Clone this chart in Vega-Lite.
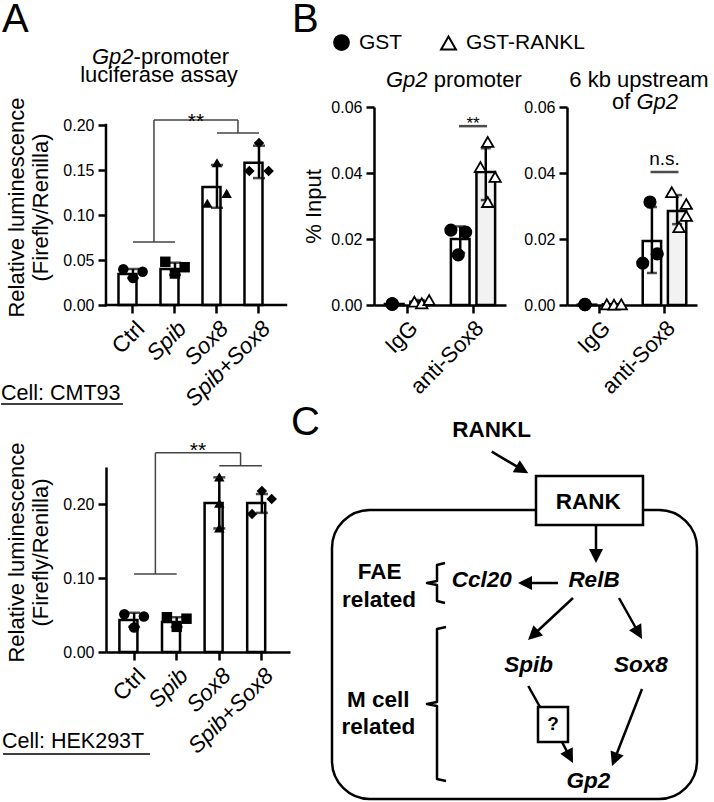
{
  "$schema": "https://vega.github.io/schema/vega-lite/v6.json",
  "padding": 0,
  "background": "white",
  "config": {
    "font": "Liberation Sans",
    "view": {"stroke": null},
    "axis": {
      "domainColor": "black", "domainWidth": 2.5, "tickColor": "black", "tickWidth": 2.5, "tickSize": 8,
      "labelColor": "black", "labelFont": "Liberation Sans", "labelFontSize": 16, "labelPadding": 4,
      "titleFont": "Liberation Sans", "titleFontSize": 22, "titleFontWeight": "normal", "titleColor": "black",
      "grid": false, "labelFlush": false, "labelOverlap": false
    }
  },
  "datasets": {
    "a1_bar": [
      {"cond": "Ctrl", "mean": 0.0345, "lo": 0.030, "hi": 0.040},
      {"cond": "Spib", "mean": 0.040, "lo": 0.0335, "hi": 0.047},
      {"cond": "Sox8", "mean": 0.131, "lo": 0.108, "hi": 0.1556},
      {"cond": "Spib+Sox8", "mean": 0.158, "lo": 0.141, "hi": 0.177}
    ],
    "a1_pts": [
      {"cond": "Ctrl", "slot": "L", "value": 0.0397},
      {"cond": "Ctrl", "slot": "C", "value": 0.030},
      {"cond": "Ctrl", "slot": "R", "value": 0.037},
      {"cond": "Spib", "slot": "L", "value": 0.048},
      {"cond": "Spib", "slot": "C", "value": 0.035},
      {"cond": "Spib", "slot": "R", "value": 0.042},
      {"cond": "Sox8", "slot": "L", "value": 0.113},
      {"cond": "Sox8", "slot": "C", "value": 0.158},
      {"cond": "Sox8", "slot": "R", "value": 0.124},
      {"cond": "Spib+Sox8", "slot": "L", "value": 0.149},
      {"cond": "Spib+Sox8", "slot": "C", "value": 0.180},
      {"cond": "Spib+Sox8", "slot": "R", "value": 0.149}
    ],
    "a2_bar": [
      {"cond": "Ctrl", "mean": 0.0432, "lo": 0.034, "hi": 0.053},
      {"cond": "Spib", "mean": 0.0405, "lo": 0.034, "hi": 0.047},
      {"cond": "Sox8", "mean": 0.2014, "lo": 0.167, "hi": 0.236},
      {"cond": "Spib+Sox8", "mean": 0.2014, "lo": 0.188, "hi": 0.2135}
    ],
    "a2_pts": [
      {"cond": "Ctrl", "slot": "L", "value": 0.051},
      {"cond": "Ctrl", "slot": "C", "value": 0.033},
      {"cond": "Ctrl", "slot": "R", "value": 0.048},
      {"cond": "Spib", "slot": "L", "value": 0.047},
      {"cond": "Spib", "slot": "C", "value": 0.034},
      {"cond": "Spib", "slot": "R", "value": 0.045},
      {"cond": "Sox8", "slot": "C", "value": 0.2365},
      {"cond": "Sox8", "slot": "C", "value": 0.201},
      {"cond": "Sox8", "slot": "C", "value": 0.1676},
      {"cond": "Spib+Sox8", "slot": "L", "value": 0.1865},
      {"cond": "Spib+Sox8", "slot": "C", "value": 0.2176},
      {"cond": "Spib+Sox8", "slot": "R", "value": 0.2068}
    ],
    "b1_bar": [
      {"cond": "IgG", "group": "GST", "mean": 0.0003, "lo": 0.0002, "hi": 0.0004},
      {"cond": "IgG", "group": "GST-RANKL", "mean": 0.001, "lo": 0.0005, "hi": 0.0015},
      {"cond": "anti-Sox8", "group": "GST", "mean": 0.020, "lo": 0.0158, "hi": 0.0238},
      {"cond": "anti-Sox8", "group": "GST-RANKL", "mean": 0.0403, "lo": 0.0318, "hi": 0.0475}
    ],
    "b1_pts": [
      {"cond": "IgG", "group": "GST", "well": "G2", "value": 0.0002},
      {"cond": "IgG", "group": "GST", "well": "G2", "value": 0.0003},
      {"cond": "IgG", "group": "GST", "well": "G2", "value": 0.0004},
      {"cond": "IgG", "group": "GST-RANKL", "well": "R1", "value": 0.001},
      {"cond": "IgG", "group": "GST-RANKL", "well": "R2", "value": 0.0005},
      {"cond": "IgG", "group": "GST-RANKL", "well": "R3", "value": 0.0015},
      {"cond": "anti-Sox8", "group": "GST", "well": "G1", "value": 0.0227},
      {"cond": "anti-Sox8", "group": "GST", "well": "G2", "value": 0.0152},
      {"cond": "anti-Sox8", "group": "GST", "well": "G3", "value": 0.0221},
      {"cond": "anti-Sox8", "group": "GST-RANKL", "well": "R1", "value": 0.0418},
      {"cond": "anti-Sox8", "group": "GST-RANKL", "well": "R2", "value": 0.0494},
      {"cond": "anti-Sox8", "group": "GST-RANKL", "well": "R3", "value": 0.0388},
      {"cond": "anti-Sox8", "group": "GST-RANKL", "well": "R2", "value": 0.0312}
    ],
    "b2_bar": [
      {"cond": "IgG", "group": "GST", "mean": 0.0001, "lo": 0.0001, "hi": 0.0001},
      {"cond": "IgG", "group": "GST-RANKL", "mean": 0.0002, "lo": 0.0001, "hi": 0.0002},
      {"cond": "anti-Sox8", "group": "GST", "mean": 0.0194, "lo": 0.0097, "hi": 0.0297},
      {"cond": "anti-Sox8", "group": "GST-RANKL", "mean": 0.0285, "lo": 0.0245, "hi": 0.0333}
    ],
    "b2_pts": [
      {"cond": "IgG", "group": "GST", "well": "G2", "value": 0.0001},
      {"cond": "IgG", "group": "GST", "well": "G2", "value": 0.0001},
      {"cond": "IgG", "group": "GST", "well": "G2", "value": 0.0002},
      {"cond": "IgG", "group": "GST-RANKL", "well": "R1", "value": 0.0002},
      {"cond": "IgG", "group": "GST-RANKL", "well": "R2", "value": 0.0001},
      {"cond": "IgG", "group": "GST-RANKL", "well": "R3", "value": 0.0002},
      {"cond": "anti-Sox8", "group": "GST", "well": "G2", "value": 0.0312},
      {"cond": "anti-Sox8", "group": "GST", "well": "G1", "value": 0.0127},
      {"cond": "anti-Sox8", "group": "GST", "well": "G3", "value": 0.0155},
      {"cond": "anti-Sox8", "group": "GST-RANKL", "well": "R1", "value": 0.0342},
      {"cond": "anti-Sox8", "group": "GST-RANKL", "well": "R2", "value": 0.0236},
      {"cond": "anti-Sox8", "group": "GST-RANKL", "well": "R3", "value": 0.0306},
      {"cond": "anti-Sox8", "group": "GST-RANKL", "well": "R3", "value": 0.027}
    ],
    "c_letters": [
      {"label": "A", "X": -298, "Y": -368},
      {"label": "B", "X": -8, "Y": -368},
      {"label": "C", "X": -9, "Y": 34.5}
    ],
    "c_title_c": [
      {"label": "luciferase assay", "X": -141, "Y": -318.5},
      {"label": "6 kb upstream", "X": 339, "Y": -313}
    ],
    "c_title_l": [
      {"label": "-promoter", "X": -166.4, "Y": -336.5},
      {"label": "promoter", "X": 133.7, "Y": -313}
    ],
    "c_title_r": [
      {"label": "of", "X": 330.3, "Y": -291}
    ],
    "c_title_il": [
      {"label": "Gp2", "X": 336.4, "Y": -291}
    ],
    "c_title_ir": [
      {"label": "Gp2", "X": -166.4, "Y": -336.5},
      {"label": "Gp2", "X": 127.6, "Y": -313}
    ],
    "c_cell": [
      {"label": "Cell: CMT93", "X": -299, "Y": 0},
      {"label": "Cell: HEK293T", "X": -298, "Y": 348}
    ],
    "c_uline": [
      {"X": -299, "X2": -177, "Y": 4},
      {"X": -297, "X2": -150, "Y": 354}
    ],
    "c_outer": [
      {"X": 32, "Y": 110, "X2": 397, "Y2": 399}
    ],
    "c_boxes": [
      {"X": 236, "Y": 76, "X2": 343, "Y2": 125},
      {"X": 238, "Y": 307, "X2": 268, "Y2": 342}
    ],
    "c_lines": [
      {"X": 191.7, "Y": 51.7, "X2": 221.4, "Y2": 69.2},
      {"X": 296, "Y": 125, "X2": 296, "Y2": 155},
      {"X": 258, "Y": 183, "X2": 226, "Y2": 183},
      {"X": 273, "Y": 198, "X2": 233.8, "Y2": 234.5},
      {"X": 319, "Y": 198, "X2": 338.1, "Y2": 232},
      {"X": 228.3, "Y": 286, "X2": 240, "Y2": 307},
      {"X": 262, "Y": 342, "X2": 269.3, "Y2": 355.9},
      {"X": 342, "Y": 289, "X2": 314.9, "Y2": 358.5}
    ],
    "c_heads": [
      {"X": 228.3, "Y": 73.3, "angle": 120.5},
      {"X": 296, "Y": 163, "angle": 180},
      {"X": 218, "Y": 183, "angle": 270},
      {"X": 228, "Y": 240, "angle": 227},
      {"X": 342, "Y": 239, "angle": 150.7},
      {"X": 273, "Y": 363, "angle": 152.4},
      {"X": 312, "Y": 366, "angle": 201.3}
    ],
    "c_braces": [
      {"id": "f", "i": 0, "X": 145, "Y": 163},
      {"id": "f", "i": 1, "X": 137, "Y": 165},
      {"id": "f", "i": 2, "X": 137, "Y": 181},
      {"id": "f", "i": 3, "X": 127, "Y": 183},
      {"id": "f", "i": 4, "X": 137, "Y": 185},
      {"id": "f", "i": 5, "X": 137, "Y": 201},
      {"id": "f", "i": 6, "X": 145, "Y": 203},
      {"id": "m", "i": 0, "X": 146, "Y": 227},
      {"id": "m", "i": 1, "X": 137, "Y": 229},
      {"id": "m", "i": 2, "X": 137, "Y": 302},
      {"id": "m", "i": 3, "X": 127, "Y": 304},
      {"id": "m", "i": 4, "X": 137, "Y": 306},
      {"id": "m", "i": 5, "X": 137, "Y": 379},
      {"id": "m", "i": 6, "X": 146, "Y": 381}
    ],
    "c_bold": [
      {"label": "RANKL", "X": 191.7, "Y": 37},
      {"label": "RANK", "X": 288.3, "Y": 109},
      {"label": "FAE", "X": 79.5, "Y": 179},
      {"label": "related", "X": 79, "Y": 207.3},
      {"label": "M cell", "X": 78.3, "Y": 306.7},
      {"label": "related", "X": 78.3, "Y": 334}
    ],
    "c_q": [
      {"label": "?", "X": 253, "Y": 330}
    ],
    "c_bolditalic": [
      {"label": "Ccl20", "X": 181.7, "Y": 186.7},
      {"label": "RelB", "X": 294, "Y": 186.7},
      {"label": "Spib", "X": 228.7, "Y": 271.7},
      {"label": "Sox8", "X": 340.8, "Y": 271.7},
      {"label": "Gp2", "X": 288.3, "Y": 388.3}
    ]
  },
  "columns": 3,
  "align": "none",
  "bounds": "flush",
  "spacing": {"row": 162, "column": 61},
  "resolve": {
    "scale": {"shape": "independent", "color": "independent", "fill": "independent", "stroke": "independent", "xOffset": "independent", "angle": "independent"},
    "legend": {"shape": "independent", "color": "independent", "fill": "independent", "stroke": "independent"}
  },
  "concat": [
    {
      "width": 207, "height": 198,
      "layer": [
        {
          "data": {"name": "a1_bar"},
          "mark": {"type": "bar", "fill": "white", "stroke": "black", "strokeWidth": 2.5},
          "encoding": {
            "x": {"field": "cond", "type": "nominal", "sort": null,
              "scale": {"domain": ["Ctrl", "Spib", "Sox8", "Spib+Sox8"], "paddingInner": 0.31, "paddingOuter": 0.619, "align": 0.24},
              "axis": {"title": null, "domain": false, "labelAngle": -45, "labelFontSize": 22.5,
                "labelFontStyle": {"condition": {"test": "datum.value !== 'Ctrl'", "value": "italic"}, "value": "normal"}}},
            "y": {"field": "mean", "type": "quantitative", "scale": {"domain": [0, 0.22], "nice": false},
              "axis": {"title": ["Relative luminescence", "(Firefly/Renilla)"], "domain": false, "values": [0, 0.05, 0.1, 0.15, 0.2], "format": ".2f", "titlePadding": 10, "titleLineHeight": 24, "titleY": 100}}
          }
        },
        {
          "data": {"values": [{"at": "Ctrl", "y": 0, "y2": 0.2}]},
          "mark": {"type": "rule", "color": "black", "strokeWidth": 2.5, "strokeCap": "square"},
          "encoding": {"x": {"field": "at", "type": "nominal", "bandPosition": -0.431}, "y": {"field": "y", "type": "quantitative"}, "y2": {"field": "y2"}}
        },
        {
          "data": {"values": [{"from": "Ctrl", "to": "Spib+Sox8", "y": 0}]},
          "mark": {"type": "rule", "color": "black", "strokeWidth": 2.5, "strokeCap": "square"},
          "encoding": {"x": {"field": "from", "type": "nominal", "bandPosition": -0.431}, "x2": {"field": "to", "bandPosition": 1.431}, "y": {"field": "y", "type": "quantitative"}}
        },
        {
          "data": {"name": "a1_bar"},
          "mark": {"type": "rule", "color": "black", "strokeWidth": 2.5},
          "encoding": {"x": {"field": "cond", "type": "nominal"}, "y": {"field": "lo", "type": "quantitative"}, "y2": {"field": "hi"}}
        },
        {
          "data": {"name": "a1_bar"},
          "mark": {"type": "tick", "color": "black", "thickness": 2.5, "size": 12},
          "encoding": {"x": {"field": "cond", "type": "nominal"}, "y": {"field": "lo", "type": "quantitative"}}
        },
        {
          "data": {"name": "a1_bar"},
          "mark": {"type": "tick", "color": "black", "thickness": 2.5, "size": 12},
          "encoding": {"x": {"field": "cond", "type": "nominal"}, "y": {"field": "hi", "type": "quantitative"}}
        },
        {
          "data": {"name": "a1_pts"},
          "mark": {"type": "point", "filled": true, "color": "black", "size": 110, "opacity": 1},
          "encoding": {
            "x": {"field": "cond", "type": "nominal"},
            "xOffset": {"field": "slot", "type": "nominal", "scale": {"domain": ["L", "C", "R"], "paddingInner": 0, "paddingOuter": 0.5}},
            "y": {"field": "value", "type": "quantitative"},
            "shape": {"field": "cond", "type": "nominal", "scale": {"domain": ["Ctrl", "Spib", "Sox8", "Spib+Sox8"], "range": ["circle", "square", "triangle-up", "diamond"]}, "legend": null}
          }
        },
        {
          "data": {"values": [{"from": "Ctrl", "to": "Spib", "y": 0.07}, {"from": "Sox8", "to": "Spib+Sox8", "y": 0.191}]},
          "mark": {"type": "rule", "color": "#444", "strokeWidth": 1.5},
          "encoding": {"x": {"field": "from", "type": "nominal", "bandPosition": 0.5}, "x2": {"field": "to", "bandPosition": 0.5}, "y": {"field": "y", "type": "quantitative"}}
        },
        {
          "data": {"values": [{"from": "Ctrl", "to": "Sox8", "y": 0.2056}]},
          "mark": {"type": "rule", "color": "#444", "strokeWidth": 1.5},
          "encoding": {"x": {"field": "from", "type": "nominal", "bandPosition": 1.224}, "x2": {"field": "to", "bandPosition": 1.224}, "y": {"field": "y", "type": "quantitative"}}
        },
        {
          "data": {"values": [{"at": "Ctrl", "y": 0.07, "y2": 0.2056}, {"at": "Sox8", "y": 0.191, "y2": 0.2056}]},
          "mark": {"type": "rule", "color": "#444", "strokeWidth": 1.5},
          "encoding": {"x": {"field": "at", "type": "nominal", "bandPosition": 1.224}, "y": {"field": "y", "type": "quantitative"}, "y2": {"field": "y2"}}
        },
        {
          "data": {"values": [{"at": "Spib", "y": 0.197, "label": "**"}]},
          "mark": {"type": "text", "fontSize": 21, "baseline": "alphabetic", "color": "black"},
          "encoding": {"x": {"field": "at", "type": "nominal", "bandPosition": 1.224}, "y": {"field": "y", "type": "quantitative"}, "text": {"field": "label"}}
        }
      ]
    },
    {
      "width": 132, "height": 198,
      "resolve": {"scale": {"xOffset": "independent"}},
      "layer": [
        {
          "data": {"name": "b1_bar"},
          "transform": [{"filter": "datum.group === 'GST'"}],
          "mark": {"type": "bar", "fill": "white", "stroke": "black", "strokeWidth": 2.5},
          "encoding": {
            "x": {"field": "cond", "type": "nominal", "sort": null,
              "scale": {"domain": ["IgG", "anti-Sox8"], "paddingInner": 0.33, "paddingOuter": 0.165},
              "axis": {"title": null, "labelAngle": -45, "labelFontSize": 22}},
            "xOffset": {"field": "group", "type": "nominal", "scale": {"domain": ["GST", "GST-RANKL"], "paddingInner": 0.27}},
            "y": {"field": "mean", "type": "quantitative", "scale": {"domain": [0, 0.06], "nice": false},
              "axis": {"title": "% Input", "values": [0, 0.02, 0.04, 0.06], "format": ".2f", "titlePadding": 5}}
          }
        },
        {
          "data": {"name": "b1_bar"},
          "transform": [{"filter": "datum.group === 'GST-RANKL'"}],
          "mark": {"type": "bar", "fill": "#f2f2f2", "stroke": "black", "strokeWidth": 2.5},
          "encoding": {
            "x": {"field": "cond", "type": "nominal"},
            "xOffset": {"field": "group", "type": "nominal", "scale": {"domain": ["GST", "GST-RANKL"], "paddingInner": 0.27}},
            "y": {"field": "mean", "type": "quantitative"}
          }
        },
        {
          "data": {"name": "b1_bar"},
          "mark": {"type": "rule", "color": "black", "strokeWidth": 2.5},
          "encoding": {
            "x": {"field": "cond", "type": "nominal"},
            "xOffset": {"field": "group", "type": "nominal", "scale": {"domain": ["GST", "GST-RANKL"], "paddingInner": 0.27}},
            "y": {"field": "lo", "type": "quantitative"}, "y2": {"field": "hi"}
          }
        },
        {
          "data": {"name": "b1_bar"},
          "mark": {"type": "tick", "color": "black", "thickness": 2.5, "size": 10},
          "encoding": {
            "x": {"field": "cond", "type": "nominal"},
            "xOffset": {"field": "group", "type": "nominal", "scale": {"domain": ["GST", "GST-RANKL"], "paddingInner": 0.27}},
            "y": {"field": "lo", "type": "quantitative"}
          }
        },
        {
          "data": {"name": "b1_bar"},
          "mark": {"type": "tick", "color": "black", "thickness": 2.5, "size": 10},
          "encoding": {
            "x": {"field": "cond", "type": "nominal"},
            "xOffset": {"field": "group", "type": "nominal", "scale": {"domain": ["GST", "GST-RANKL"], "paddingInner": 0.27}},
            "y": {"field": "hi", "type": "quantitative"}
          }
        },
        {
          "data": {"name": "b1_pts"},
          "mark": {"type": "point", "size": 130, "strokeWidth": 1.8, "opacity": 1, "fillOpacity": 1, "strokeOpacity": 1},
          "encoding": {
            "x": {"field": "cond", "type": "nominal"},
            "xOffset": {"field": "well", "type": "nominal", "scale": {"domain": ["G1", "G2", "G3", "gap", "R1", "R2", "R3"], "paddingInner": 0, "paddingOuter": 0}},
            "y": {"field": "value", "type": "quantitative"},
            "fill": {"field": "group", "type": "nominal", "scale": {"domain": ["GST", "GST-RANKL"], "range": ["black", "white"]},
              "legend": {"orient": "none", "legendX": -43, "legendY": -75, "direction": "horizontal", "title": null, "labelFontSize": 21, "labelFont": "Liberation Sans", "labelColor": "black", "symbolSize": 220, "symbolStrokeWidth": 2, "symbolOpacity": 1, "labelOffset": 7, "columnPadding": 34, "padding": 0}},
            "stroke": {"field": "group", "type": "nominal", "scale": {"domain": ["GST", "GST-RANKL"], "range": ["black", "black"]},
              "legend": {"orient": "none", "legendX": -43, "legendY": -75, "direction": "horizontal", "title": null, "labelFontSize": 21, "labelFont": "Liberation Sans", "labelColor": "black", "symbolSize": 220, "symbolStrokeWidth": 2, "symbolOpacity": 1, "labelOffset": 7, "columnPadding": 34, "padding": 0}},
            "shape": {"field": "group", "type": "nominal", "scale": {"domain": ["GST", "GST-RANKL"], "range": ["circle", "triangle-up"]},
              "legend": {"orient": "none", "legendX": -43, "legendY": -75, "direction": "horizontal", "title": null, "labelFontSize": 21, "labelFont": "Liberation Sans", "labelColor": "black", "symbolSize": 220, "symbolStrokeWidth": 2, "symbolOpacity": 1, "labelOffset": 7, "columnPadding": 34, "padding": 0}}
          }
        },
        {
          "data": {"values": [{"cond": "anti-Sox8", "y": 0.0542}]},
          "mark": {"type": "tick", "color": "black", "thickness": 2.5, "size": 28},
          "encoding": {"x": {"field": "cond", "type": "nominal"}, "y": {"field": "y", "type": "quantitative"}}
        },
        {
          "data": {"values": [{"cond": "anti-Sox8", "y": 0.0533, "label": "**"}]},
          "mark": {"type": "text", "fontSize": 17, "baseline": "alphabetic", "color": "black"},
          "encoding": {"x": {"field": "cond", "type": "nominal"}, "y": {"field": "y", "type": "quantitative"}, "text": {"field": "label"}}
        }
      ]
    },
    {
      "width": 130, "height": 198,
      "resolve": {"scale": {"xOffset": "independent"}},
      "layer": [
        {
          "data": {"name": "b2_bar"},
          "transform": [{"filter": "datum.group === 'GST'"}],
          "mark": {"type": "bar", "fill": "white", "stroke": "black", "strokeWidth": 2.5},
          "encoding": {
            "x": {"field": "cond", "type": "nominal", "sort": null,
              "scale": {"domain": ["IgG", "anti-Sox8"], "paddingInner": 0.33, "paddingOuter": 0.165},
              "axis": {"title": null, "labelAngle": -45, "labelFontSize": 22}},
            "xOffset": {"field": "group", "type": "nominal", "scale": {"domain": ["GST", "GST-RANKL"], "paddingInner": 0.27}},
            "y": {"field": "mean", "type": "quantitative", "scale": {"domain": [0, 0.06], "nice": false},
              "axis": {"title": null, "values": [0, 0.02, 0.04, 0.06], "format": ".2f"}}
          }
        },
        {
          "data": {"name": "b2_bar"},
          "transform": [{"filter": "datum.group === 'GST-RANKL'"}],
          "mark": {"type": "bar", "fill": "#f2f2f2", "stroke": "black", "strokeWidth": 2.5},
          "encoding": {
            "x": {"field": "cond", "type": "nominal"},
            "xOffset": {"field": "group", "type": "nominal", "scale": {"domain": ["GST", "GST-RANKL"], "paddingInner": 0.27}},
            "y": {"field": "mean", "type": "quantitative"}
          }
        },
        {
          "data": {"name": "b2_bar"},
          "mark": {"type": "rule", "color": "black", "strokeWidth": 2.5},
          "encoding": {
            "x": {"field": "cond", "type": "nominal"},
            "xOffset": {"field": "group", "type": "nominal", "scale": {"domain": ["GST", "GST-RANKL"], "paddingInner": 0.27}},
            "y": {"field": "lo", "type": "quantitative"}, "y2": {"field": "hi"}
          }
        },
        {
          "data": {"name": "b2_bar"},
          "mark": {"type": "tick", "color": "black", "thickness": 2.5, "size": 10},
          "encoding": {
            "x": {"field": "cond", "type": "nominal"},
            "xOffset": {"field": "group", "type": "nominal", "scale": {"domain": ["GST", "GST-RANKL"], "paddingInner": 0.27}},
            "y": {"field": "lo", "type": "quantitative"}
          }
        },
        {
          "data": {"name": "b2_bar"},
          "mark": {"type": "tick", "color": "black", "thickness": 2.5, "size": 10},
          "encoding": {
            "x": {"field": "cond", "type": "nominal"},
            "xOffset": {"field": "group", "type": "nominal", "scale": {"domain": ["GST", "GST-RANKL"], "paddingInner": 0.27}},
            "y": {"field": "hi", "type": "quantitative"}
          }
        },
        {
          "data": {"name": "b2_pts"},
          "mark": {"type": "point", "size": 130, "strokeWidth": 1.8, "opacity": 1, "fillOpacity": 1, "strokeOpacity": 1},
          "encoding": {
            "x": {"field": "cond", "type": "nominal"},
            "xOffset": {"field": "well", "type": "nominal", "scale": {"domain": ["G1", "G2", "G3", "gap", "R1", "R2", "R3"], "paddingInner": 0, "paddingOuter": 0}},
            "y": {"field": "value", "type": "quantitative"},
            "fill": {"field": "group", "type": "nominal", "scale": {"domain": ["GST", "GST-RANKL"], "range": ["black", "white"]}, "legend": null},
            "stroke": {"field": "group", "type": "nominal", "scale": {"domain": ["GST", "GST-RANKL"], "range": ["black", "black"]}, "legend": null},
            "shape": {"field": "group", "type": "nominal", "scale": {"domain": ["GST", "GST-RANKL"], "range": ["circle", "triangle-up"]}, "legend": null}
          }
        },
        {
          "data": {"values": [{"cond": "anti-Sox8", "y": 0.0403}]},
          "mark": {"type": "tick", "color": "black", "thickness": 2.5, "size": 28},
          "encoding": {"x": {"field": "cond", "type": "nominal"}, "y": {"field": "y", "type": "quantitative"}}
        },
        {
          "data": {"values": [{"cond": "anti-Sox8", "y": 0.0424, "label": "n.s."}]},
          "mark": {"type": "text", "fontSize": 19, "baseline": "alphabetic", "color": "black"},
          "encoding": {"x": {"field": "cond", "type": "nominal"}, "y": {"field": "y", "type": "quantitative"}, "text": {"field": "label"}}
        }
      ]
    },
    {
      "width": 184, "height": 185,
      "layer": [
        {
          "data": {"name": "a2_bar"},
          "mark": {"type": "bar", "fill": "white", "stroke": "black", "strokeWidth": 2.5},
          "encoding": {
            "x": {"field": "cond", "type": "nominal", "sort": null,
              "scale": {"domain": ["Ctrl", "Spib", "Sox8", "Spib+Sox8"], "paddingInner": 0.31, "paddingOuter": 0.315},
              "axis": {"title": null, "labelAngle": -45, "labelFontSize": 22.5,
                "labelFontStyle": {"condition": {"test": "datum.value !== 'Ctrl'", "value": "italic"}, "value": "normal"}}},
            "y": {"field": "mean", "type": "quantitative", "scale": {"domain": [0, 0.25], "nice": false},
              "axis": {"title": ["Relative luminescence", "(Firefly/Renilla)"], "values": [0, 0.05, 0.1, 0.15, 0.2, 0.25], "format": ".2f", "titlePadding": 10, "titleLineHeight": 24, "titleY": 85}}
          }
        },
        {
          "data": {"name": "a2_bar"},
          "mark": {"type": "rule", "color": "black", "strokeWidth": 2.5},
          "encoding": {"x": {"field": "cond", "type": "nominal"}, "y": {"field": "lo", "type": "quantitative"}, "y2": {"field": "hi"}}
        },
        {
          "data": {"name": "a2_bar"},
          "mark": {"type": "tick", "color": "black", "thickness": 2.5, "size": 12},
          "encoding": {"x": {"field": "cond", "type": "nominal"}, "y": {"field": "lo", "type": "quantitative"}}
        },
        {
          "data": {"name": "a2_bar"},
          "mark": {"type": "tick", "color": "black", "thickness": 2.5, "size": 12},
          "encoding": {"x": {"field": "cond", "type": "nominal"}, "y": {"field": "hi", "type": "quantitative"}}
        },
        {
          "data": {"name": "a2_pts"},
          "mark": {"type": "point", "filled": true, "color": "black", "size": 110, "opacity": 1},
          "encoding": {
            "x": {"field": "cond", "type": "nominal"},
            "xOffset": {"field": "slot", "type": "nominal", "scale": {"domain": ["L", "C", "R"], "paddingInner": 0, "paddingOuter": 0.5}},
            "y": {"field": "value", "type": "quantitative"},
            "shape": {"field": "cond", "type": "nominal", "scale": {"domain": ["Ctrl", "Spib", "Sox8", "Spib+Sox8"], "range": ["circle", "square", "triangle-up", "diamond"]}, "legend": null}
          }
        },
        {
          "data": {"values": [{"from": "Ctrl", "to": "Spib", "y": 0.1054}, {"from": "Sox8", "to": "Spib+Sox8", "y": 0.2518}]},
          "mark": {"type": "rule", "color": "#444", "strokeWidth": 1.5},
          "encoding": {"x": {"field": "from", "type": "nominal", "bandPosition": 0.5}, "x2": {"field": "to", "bandPosition": 0.5}, "y": {"field": "y", "type": "quantitative"}}
        },
        {
          "data": {"values": [{"from": "Ctrl", "to": "Sox8", "y": 0.2693}]},
          "mark": {"type": "rule", "color": "#444", "strokeWidth": 1.5},
          "encoding": {"x": {"field": "from", "type": "nominal", "bandPosition": 1.224}, "x2": {"field": "to", "bandPosition": 1.224}, "y": {"field": "y", "type": "quantitative"}}
        },
        {
          "data": {"values": [{"at": "Ctrl", "y": 0.1054, "y2": 0.2693}, {"at": "Sox8", "y": 0.2518, "y2": 0.2693}]},
          "mark": {"type": "rule", "color": "#444", "strokeWidth": 1.5},
          "encoding": {"x": {"field": "at", "type": "nominal", "bandPosition": 1.224}, "y": {"field": "y", "type": "quantitative"}, "y2": {"field": "y2"}}
        },
        {
          "data": {"values": [{"at": "Spib", "y": 0.264, "label": "**"}]},
          "mark": {"type": "text", "fontSize": 21, "baseline": "alphabetic", "color": "black"},
          "encoding": {"x": {"field": "at", "type": "nominal", "bandPosition": 1.224}, "y": {"field": "y", "type": "quantitative"}, "text": {"field": "label"}}
        }
      ]
    },
    {
      "width": 132, "height": 335,
      "encoding": {
        "x": {"field": "X", "type": "quantitative", "scale": {"domain": [74, 206], "nice": false, "zero": false}, "axis": null},
        "y": {"field": "Y", "type": "quantitative", "scale": {"domain": [67, 402], "reverse": true, "nice": false, "zero": false}, "axis": null}
      },
      "layer": [
        {
          "data": {"name": "c_outer"},
          "mark": {"type": "rect", "fill": "transparent", "stroke": "black", "strokeWidth": 2.5, "cornerRadius": 38},
          "encoding": {"x2": {"field": "X2"}, "y2": {"field": "Y2"}}
        },
        {
          "data": {"name": "c_lines"},
          "mark": {"type": "rule", "color": "black", "strokeWidth": 2.5},
          "encoding": {"x2": {"field": "X2"}, "y2": {"field": "Y2"}}
        },
        {
          "data": {"name": "c_boxes"},
          "mark": {"type": "rect", "fill": "white", "stroke": "black", "strokeWidth": 2.5},
          "encoding": {"x2": {"field": "X2"}, "y2": {"field": "Y2"}}
        },
        {
          "data": {"name": "c_braces"},
          "mark": {"type": "line", "color": "black", "strokeWidth": 2.5, "strokeJoin": "round"},
          "encoding": {"order": {"field": "i", "type": "quantitative"}, "detail": {"field": "id", "type": "nominal"}}
        },
        {
          "data": {"name": "c_heads"},
          "mark": {"type": "point", "shape": "M0,0L0.7,1.4L-0.7,1.4Z", "filled": true, "color": "black", "size": 400, "opacity": 1},
          "encoding": {"angle": {"field": "angle", "type": "quantitative", "scale": null}}
        },
        {
          "data": {"name": "c_uline"},
          "mark": {"type": "rule", "color": "black", "strokeWidth": 1.5},
          "encoding": {"x2": {"field": "X2"}}
        },
        {
          "data": {"name": "c_letters"},
          "mark": {"type": "text", "fontSize": 40, "align": "left", "baseline": "alphabetic", "color": "black"},
          "encoding": {"text": {"field": "label"}}
        },
        {
          "data": {"name": "c_title_c"},
          "mark": {"type": "text", "fontSize": 22, "align": "center", "baseline": "alphabetic", "color": "black"},
          "encoding": {"text": {"field": "label"}}
        },
        {
          "data": {"name": "c_title_l"},
          "mark": {"type": "text", "fontSize": 22, "align": "left", "baseline": "alphabetic", "color": "black"},
          "encoding": {"text": {"field": "label"}}
        },
        {
          "data": {"name": "c_title_r"},
          "mark": {"type": "text", "fontSize": 22, "align": "right", "baseline": "alphabetic", "color": "black"},
          "encoding": {"text": {"field": "label"}}
        },
        {
          "data": {"name": "c_title_il"},
          "mark": {"type": "text", "fontSize": 22, "fontStyle": "italic", "align": "left", "baseline": "alphabetic", "color": "black"},
          "encoding": {"text": {"field": "label"}}
        },
        {
          "data": {"name": "c_title_ir"},
          "mark": {"type": "text", "fontSize": 22, "fontStyle": "italic", "align": "right", "baseline": "alphabetic", "color": "black"},
          "encoding": {"text": {"field": "label"}}
        },
        {
          "data": {"name": "c_cell"},
          "mark": {"type": "text", "fontSize": 21.5, "align": "left", "baseline": "alphabetic", "color": "black"},
          "encoding": {"text": {"field": "label"}}
        },
        {
          "data": {"name": "c_bold"},
          "mark": {"type": "text", "fontSize": 22.5, "fontWeight": "bold", "align": "center", "baseline": "alphabetic", "color": "black"},
          "encoding": {"text": {"field": "label"}}
        },
        {
          "data": {"name": "c_q"},
          "mark": {"type": "text", "fontSize": 19, "fontWeight": "bold", "align": "center", "baseline": "alphabetic", "color": "black"},
          "encoding": {"text": {"field": "label"}}
        },
        {
          "data": {"name": "c_bolditalic"},
          "mark": {"type": "text", "fontSize": 22.5, "fontWeight": "bold", "fontStyle": "italic", "align": "center", "baseline": "alphabetic", "color": "black"},
          "encoding": {"text": {"field": "label"}}
        }
      ]
    }
  ]
}
